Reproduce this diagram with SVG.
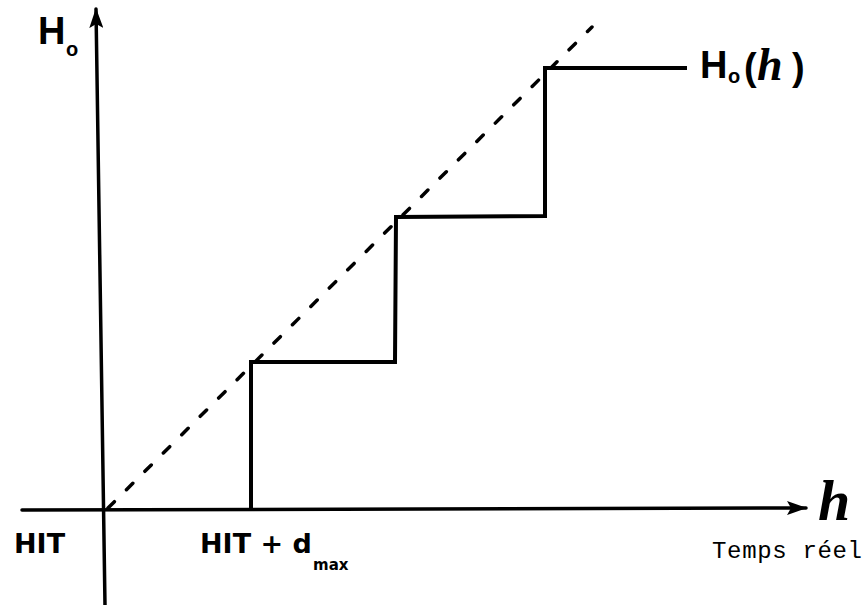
<svg xmlns="http://www.w3.org/2000/svg" width="867" height="605" viewBox="0 0 867 605">
<style>
.ax{stroke:#000;stroke-width:3.5;fill:none;stroke-linecap:round}
.st{stroke:#000;stroke-width:4;fill:none;stroke-linejoin:miter}
.ds{stroke:#000;stroke-width:3.5;fill:none;stroke-dasharray:9 17;stroke-linecap:round}
.hw{font-family:"Liberation Sans","DejaVu Sans",sans-serif;font-weight:bold;fill:#000}
.hd{font-family:"DejaVu Sans","Liberation Sans",sans-serif;font-weight:bold;fill:#000}
.sc{font-family:"Liberation Serif","DejaVu Serif",serif;font-style:italic;font-weight:bold;fill:#000}
.mono{font-family:"Liberation Mono","DejaVu Sans Mono",monospace;fill:#000}
</style>
<defs>
<marker id="ah" viewBox="0 0 20 14" refX="19" refY="7" markerWidth="20" markerHeight="14" markerUnits="userSpaceOnUse" orient="auto">
<path d="M0,0 L20,7 L0,14 L4,7 Z" fill="#000"/>
</marker>
</defs>
<g id="connectors">
<line class="ax" x1="105" y1="605" x2="96" y2="9" marker-end="url(#ah)"/>
<line class="ax" x1="22" y1="510" x2="806" y2="508" marker-end="url(#ah)"/>
<line class="ds" x1="108" y1="508" x2="592" y2="27"/>
<polyline class="st" points="251,510 251,362 395,362 396,217 545,216 545,68 687,68"/>
</g>
<g id="label-Ho-axis">
<text class="hw" x="38" y="44" font-size="38">H</text>
<text class="hw" x="66" y="56" font-size="20">o</text>
</g>
<g id="label-Ho-h">
<text class="hw" x="700" y="78" font-size="38">H</text>
<text class="hw" x="728" y="83" font-size="20">o</text>
<text class="hw" x="744" y="80" font-size="38">(</text>
<text class="sc" x="757" y="80" font-size="46">h</text>
<text class="hw" x="792" y="80" font-size="38">)</text>
</g>
<g id="label-h">
<text class="sc" x="818" y="520" font-size="58">h</text>
</g>
<g id="label-HIT">
<text class="hd" x="14" y="553" font-size="27">HIT</text>
</g>
<g id="label-HIT-dmax">
<text class="hd" x="200" y="553" font-size="27">HIT + d</text>
<text class="hd" x="313" y="570" font-size="15">max</text>
</g>
<g id="label-temps">
<text class="mono" x="712" y="558" font-size="24" textLength="150" lengthAdjust="spacing">Temps réel</text>
</g>
</svg>
